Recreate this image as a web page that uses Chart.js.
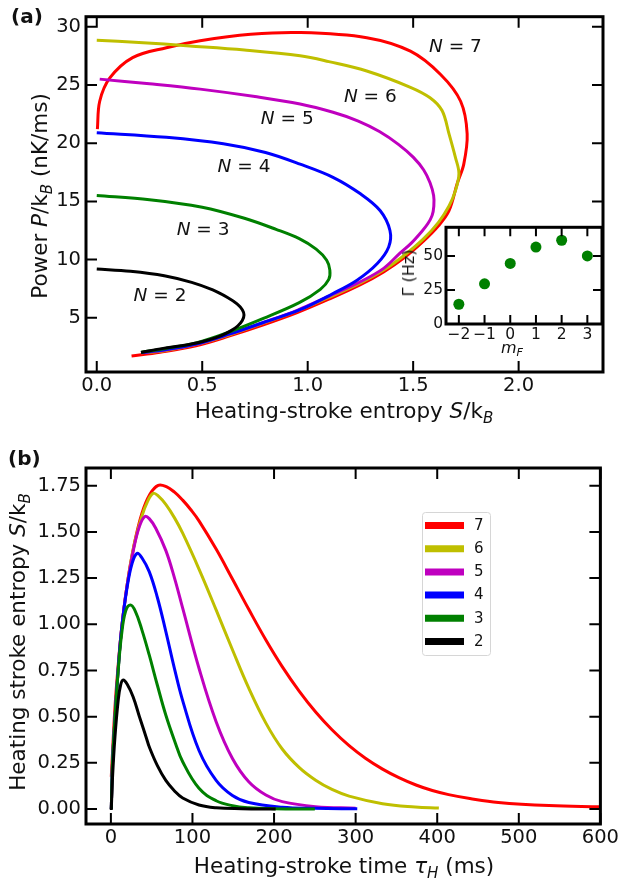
<!DOCTYPE html>
<html>
<head>
<meta charset="utf-8">
<script src="https://cdn.jsdelivr.net/npm/chart.js@4.4.1/dist/chart.umd.min.js"></script>
<style>
  html, body { margin: 0; padding: 0; background: #fff; }
  #wrap { position: relative; width: 621px; height: 882px; overflow: hidden;
          font-family: "DejaVu Sans", sans-serif; color: #111; }
  #wrap canvas { position: absolute; }
  .t { position: absolute; white-space: nowrap; line-height: 1; font-size: 21.5px;
       transform: translate(-50%, -50%); }
  .rot { transform: translate(-50%, -50%) rotate(-90deg); }
  .panel { position: absolute; font-weight: bold; font-size: 20px; line-height: 1; }
  .small { font-size: 16px; }
  sub { font-size: 0.7em; vertical-align: -0.3em; line-height: 0; }
</style>
</head>
<body>
<div id="wrap">
  <canvas id="chartA" width="621" height="430" style="left:0;top:0"></canvas>
  <canvas id="chartB" width="621" height="442" style="left:0;top:440px"></canvas>
  <canvas id="chartC" width="221" height="145" style="left:400px;top:215px"></canvas>

  <div class="panel" style="left:11px;top:6px">(a)</div>
  <div class="t rot" style="left:40px;top:196px">Power <i>P</i>/k<sub><i>B</i></sub> (nK/ms)</div>
  <div class="t" style="left:344px;top:411px">Heating-stroke entropy <i>S</i>/k<sub><i>B</i></sub></div>
  <div class="t rot small" style="left:409px;top:273px">Γ (Hz)</div>
  <div class="t small" style="left:512px;top:348px"><i>m</i><sub><i>F</i></sub></div>

  <div class="panel" style="left:8px;top:448px">(b)</div>
  <div class="t rot" style="left:18px;top:642px">Heating stroke entropy <i>S</i>/k<sub><i>B</i></sub></div>
  <div class="t" style="left:344px;top:866px">Heating-stroke time <i>τ</i><sub><i>H</i></sub> (ms)</div>
</div>

<script>
// ---- data -------------------------------------------------------------
const curveN = [2, 3, 4, 5, 6, 7]
const curveColors = ['#000000', '#008000', '#0000ff', '#bf00bf', '#bfbf00', '#ff0000']

// (a) power vs heating-stroke entropy, one loop per N
const entropyA2 = [0.00, 0.16, 0.32, 0.45, 0.55, 0.62, 0.665, 0.69, 0.698, 0.69, 0.668, 0.635, 0.59, 0.535, 0.474, 0.40, 0.315, 0.21]
const powerA2   = [9.20, 9.00, 8.62, 8.05, 7.40, 6.75, 6.20, 5.70, 5.25, 4.78, 4.30, 3.88, 3.48, 3.13, 2.84, 2.60, 2.38, 2.03]

const entropyA3 = [0.00, 0.25, 0.50, 0.70, 0.85, 0.96, 1.04, 1.09, 1.105, 1.10, 1.06, 0.96, 0.79, 0.63, 0.47, 0.32, 0.21]
const powerA3   = [15.50, 15.15, 14.50, 13.55, 12.60, 11.80, 10.90, 9.95, 9.10, 8.30, 7.45, 6.30, 4.95, 3.80, 2.85, 2.35, 2.05]

const entropyA4 = [0.00, 0.33, 0.60, 0.80, 0.964, 1.12, 1.25, 1.344, 1.39, 1.384, 1.33, 1.234, 1.12, 0.964, 0.79, 0.63, 0.47, 0.32, 0.21]
const powerA4   = [20.9, 20.5, 19.95, 19.2, 18.2, 17.07, 15.65, 14.2, 12.5, 11.08, 9.66, 8.23, 7.09, 5.70, 4.60, 3.62, 2.75, 2.25, 2.02]

const entropyA5 = [0.014, 0.25, 0.49, 0.75, 0.964, 1.12, 1.24, 1.34, 1.43, 1.50, 1.55, 1.58, 1.597, 1.598, 1.59, 1.57, 1.54, 1.49, 1.44, 1.36, 1.25, 1.10, 0.95, 0.79, 0.63, 0.47, 0.32, 0.21]
const powerA5   = [25.5, 25.1, 24.64, 24.0, 23.36, 22.65, 21.9, 21.0, 19.9, 18.8, 17.7, 16.6, 15.5, 14.6, 13.8, 13.1, 12.4, 11.4, 10.6, 9.25, 8.1, 6.85, 5.65, 4.6, 3.6, 2.72, 2.22, 2.0]

const entropyA6 = [0.00, 0.20, 0.44, 0.70, 0.964, 1.10, 1.28, 1.487, 1.58, 1.637, 1.67, 1.70, 1.717, 1.70, 1.67, 1.62, 1.55, 1.46, 1.36, 1.25, 1.10, 0.95, 0.79, 0.63, 0.47, 0.32, 0.21]
const powerA6   = [28.84, 28.65, 28.35, 28.0, 27.5, 27.0, 26.2, 24.8, 23.9, 22.8, 20.8, 18.8, 17.4, 15.9, 14.6, 13.2, 11.8, 10.4, 9.1, 8.0, 6.75, 5.6, 4.55, 3.55, 2.7, 2.18, 2.0]

const entropyA7 = [0.003, 0.014, 0.062, 0.17, 0.33, 0.49, 0.73, 0.965, 1.28, 1.487, 1.63, 1.725, 1.756, 1.74, 1.71, 1.67, 1.62, 1.55, 1.46, 1.36, 1.25, 1.10, 0.95, 0.79, 0.63, 0.47, 0.30, 0.165]
const powerA7   = [21.2, 23.6, 25.6, 27.35, 28.2, 28.8, 29.35, 29.5, 29.06, 27.9, 25.9, 23.6, 20.8, 18.2, 16.6, 14.2, 12.9, 11.6, 10.2, 8.95, 7.85, 6.6, 5.45, 4.4, 3.45, 2.6, 2.05, 1.72]

// "N = ..." annotation anchors (data coords of panel a)
const labelS = [0.30, 0.504, 0.698, 0.903, 1.297, 1.70]
const labelP = [6.86, 12.5, 17.9, 22.1, 23.98, 28.26]

// inset: decay rate vs m_F
const mF = [-2, -1, 0, 1, 2, 3]
const gammaHz = [14.5, 29.5, 44.5, 56.5, 61.5, 50]

// (b) heating-stroke entropy vs heating-stroke time
const tauB2 = [0.5, 2, 5, 9, 12, 15.1, 20, 27.2, 35, 43.5, 47, 57, 67.3, 78, 88, 108, 129, 160, 202]
const entB2 = [-0.005, 0.17, 0.39, 0.59, 0.672, 0.698, 0.675, 0.608, 0.50, 0.385, 0.337, 0.235, 0.155, 0.098, 0.060, 0.022, 0.007, 0.002, 0]

const tauB3 = [0.5, 2, 5, 9, 13, 18, 24, 30, 38, 47, 57, 67.3, 78, 88, 108, 129, 149, 169, 200, 250]
const entB3 = [0, 0.25, 0.49, 0.75, 0.94, 1.07, 1.104, 1.07, 0.97, 0.834, 0.67, 0.509, 0.37, 0.256, 0.112, 0.045, 0.018, 0.007, 0.002, 0]

const tauB4 = [0.5, 2, 5, 9, 13, 19.5, 26, 32.2, 38, 47, 57, 67.3, 78, 88, 108, 129, 149, 169, 210, 250, 302]
const entB4 = [0, 0.25, 0.49, 0.76, 0.97, 1.19, 1.33, 1.384, 1.36, 1.285, 1.145, 0.962, 0.759, 0.587, 0.317, 0.155, 0.073, 0.035, 0.010, 0.004, 0.001]

const tauB5 = [0.5, 2, 5, 9, 13, 19.5, 28, 35, 41.5, 47, 55, 67.3, 78, 88, 108, 129, 149, 169, 190, 210, 251, 300]
const entB5 = [0, 0.25, 0.49, 0.76, 0.97, 1.20, 1.41, 1.53, 1.583, 1.572, 1.52, 1.40, 1.25, 1.087, 0.762, 0.473, 0.274, 0.148, 0.076, 0.040, 0.013, 0.004]

const tauB6 = [0.5, 2, 5, 9, 13, 19.5, 28, 38, 45, 51.7, 58, 67.3, 78, 88, 108, 129, 149, 169, 190, 210, 231, 251, 271, 292, 333, 373, 402]
const entB6 = [0, 0.25, 0.49, 0.76, 0.97, 1.20, 1.42, 1.585, 1.665, 1.709, 1.695, 1.649, 1.576, 1.493, 1.299, 1.078, 0.862, 0.654, 0.465, 0.325, 0.224, 0.156, 0.106, 0.070, 0.029, 0.011, 0.005]

const tauB7 = [0.5, 5, 9, 13, 19.5, 28, 38, 48, 58, 68, 78, 88, 98, 108, 129, 149, 169, 190, 210, 231, 251, 271, 292, 312, 333, 353, 374, 394, 414, 440, 475, 537, 600]
const entB7 = [0.175, 0.55, 0.78, 0.97, 1.20, 1.42, 1.60, 1.705, 1.752, 1.745, 1.715, 1.672, 1.62, 1.56, 1.407, 1.245, 1.081, 0.915, 0.771, 0.637, 0.525, 0.429, 0.343, 0.275, 0.216, 0.170, 0.130, 0.100, 0.078, 0.057, 0.036, 0.019, 0.012]

// tick labels
const xTicksA = [0, 0.5, 1.0, 1.5, 2.0]
const yTicksA = [5, 10, 15, 20, 25, 30]
const xTicksB = [0, 100, 200, 300, 400, 500, 600]
const yTicksB = [0, 0.25, 0.5, 0.75, 1.0, 1.25, 1.5, 1.75]
const xTicksC = [-2, -1, 0, 1, 2, 3]
const yTicksC = [0, 25, 50]

const entropyA = [entropyA2, entropyA3, entropyA4, entropyA5, entropyA6, entropyA7]
const powerA = [powerA2, powerA3, powerA4, powerA5, powerA6, powerA7]
const tauB = [tauB2, tauB3, tauB4, tauB5, tauB6, tauB7]
const entB = [entB2, entB3, entB4, entB5, entB6, entB7]

// ---- helpers / plugins ------------------------------------------------
const FONT = '"DejaVu Sans"'
const INK = '#111'
Chart.defaults.font.family = FONT
Chart.defaults.color = INK

const zip = (xs, ys) => xs.map((x, i) => ({ x: x, y: ys[i] }))
const fixedTicks = list => scale => { scale.ticks = list.map(v => ({ value: v })) }
const minus = v => (v < 0 ? '\u2212' + Math.abs(v) : String(v))

// matplotlib-ish box: inward ticks on all four sides + thick frame
const frameTicks = {
  id: 'frameTicks',
  afterDraw(chart, args, opts) {
    const { ctx, chartArea: a } = chart
    const xs = chart.scales.x, ys = chart.scales.y
    const len = opts.len || 11
    ctx.save()
    ctx.strokeStyle = '#000'
    ctx.lineWidth = opts.tickWidth || 2
    ctx.beginPath()
    xs.ticks.forEach(t => {
      const px = xs.getPixelForValue(t.value)
      ctx.moveTo(px, a.bottom); ctx.lineTo(px, a.bottom - len)
      ctx.moveTo(px, a.top); ctx.lineTo(px, a.top + len)
    })
    ys.ticks.forEach(t => {
      const py = ys.getPixelForValue(t.value)
      ctx.moveTo(a.left, py); ctx.lineTo(a.left + len, py)
      ctx.moveTo(a.right, py); ctx.lineTo(a.right - len, py)
    })
    ctx.stroke()
    ctx.lineWidth = opts.frameWidth || 3
    ctx.strokeRect(a.left, a.top, a.right - a.left, a.bottom - a.top)
    ctx.restore()
  }
}

// white background for the inset plot area
const whiteArea = {
  id: 'whiteArea',
  beforeDraw(chart) {
    const { ctx, chartArea: a } = chart
    ctx.save()
    ctx.fillStyle = '#fff'
    ctx.fillRect(a.left, a.top, a.right - a.left, a.bottom - a.top)
    ctx.restore()
  }
}

// "N = 2" ... labels next to each loop
const curveLabels = {
  id: 'curveLabels',
  afterDatasetsDraw(chart) {
    const { ctx } = chart
    const xs = chart.scales.x, ys = chart.scales.y
    ctx.save()
    ctx.fillStyle = INK
    ctx.textBaseline = 'middle'
    curveN.forEach((n, i) => {
      const cx = xs.getPixelForValue(labelS[i])
      const cy = ys.getPixelForValue(labelP[i])
      const rest = ' = ' + n
      ctx.font = 'italic 18.5px ' + FONT
      const w1 = ctx.measureText('N').width
      ctx.font = '18.5px ' + FONT
      const w2 = ctx.measureText(rest).width
      const x0 = cx - (w1 + w2) / 2
      ctx.font = 'italic 18.5px ' + FONT
      ctx.fillText('N', x0, cy)
      ctx.font = '18.5px ' + FONT
      ctx.fillText(rest, x0 + w1, cy)
    })
    ctx.restore()
  }
}

// framed legend inside panel (b)
const boxLegend = {
  id: 'boxLegend',
  afterDraw(chart, args, opts) {
    const { ctx } = chart
    const { x, y, w, h, step } = opts
    ctx.save()
    ctx.fillStyle = 'rgba(255,255,255,0.85)'
    ctx.strokeStyle = '#d6d6d6'
    ctx.lineWidth = 1
    ctx.beginPath()
    ctx.roundRect(x + 0.5, y + 0.5, w, h, 3)
    ctx.fill()
    ctx.stroke()
    ctx.font = '15px ' + FONT
    ctx.textBaseline = 'middle'
    chart.data.datasets.slice().reverse().forEach((ds, i) => {
      const cy = y + 13.5 + i * step
      ctx.strokeStyle = ds.borderColor
      ctx.lineWidth = 7
      ctx.beginPath()
      ctx.moveTo(x + 3, cy); ctx.lineTo(x + 42, cy)
      ctx.stroke()
      ctx.fillStyle = INK
      ctx.fillText(ds.label, x + 52, cy + 0.5)
    })
    ctx.restore()
  }
}

const tickFont = { size: 19.5 }
const plainAxis = {
  type: 'linear',
  grid: { display: false, drawTicks: false },
  border: { display: false }
}

// ---- panel (a) --------------------------------------------------------
new Chart(document.getElementById('chartA'), {
  type: 'scatter',
  data: {
    datasets: curveN.map((n, i) => ({
      label: String(n),
      data: zip(entropyA[i], powerA[i]),
      borderColor: curveColors[i],
      borderWidth: 3,
      showLine: true,
      pointRadius: 0,
      tension: 0.35
    }))
  },
  options: {
    responsive: false,
    animation: false,
    events: [],
    layout: { padding: { left: 0, top: 16, right: 18, bottom: 0 }, autoPadding: false },
    plugins: { legend: { display: false }, tooltip: { enabled: false }, frameTicks: { len: 11 } },
    scales: {
      x: {
        ...plainAxis, min: -0.051, max: 2.40,
        afterBuildTicks: fixedTicks(xTicksA),
        afterFit: s => { s.height = 58 },
        ticks: { font: tickFont, padding: 2, callback: v => v.toFixed(1) }
      },
      y: {
        ...plainAxis, min: 0.35, max: 30.86,
        afterBuildTicks: fixedTicks(yTicksA),
        afterFit: s => { s.width = 86 },
        ticks: { font: tickFont, padding: 5, callback: v => String(v) }
      }
    }
  },
  plugins: [frameTicks, curveLabels]
})

// ---- inset ------------------------------------------------------------
new Chart(document.getElementById('chartC'), {
  type: 'scatter',
  data: {
    datasets: [{
      label: 'Gamma',
      data: zip(mF, gammaHz),
      backgroundColor: '#008000',
      borderColor: '#008000',
      borderWidth: 0,
      pointRadius: 5.5
    }]
  },
  options: {
    responsive: false,
    animation: false,
    events: [],
    layout: { padding: { left: 0, top: 8, right: 19, bottom: 0 }, autoPadding: false },
    plugins: { legend: { display: false }, tooltip: { enabled: false }, frameTicks: { len: 9 } },
    scales: {
      x: {
        ...plainAxis, min: -2.5, max: 3.57,
        afterBuildTicks: fixedTicks(xTicksC),
        afterFit: s => { s.height = 36 },
        ticks: { font: { size: 15.5 }, padding: 2, callback: minus }
      },
      y: {
        ...plainAxis, min: 0, max: 71,
        afterBuildTicks: fixedTicks(yTicksC),
        afterFit: s => { s.width = 46 },
        ticks: { font: { size: 15.5 }, padding: 3, callback: v => String(v) }
      }
    }
  },
  plugins: [whiteArea, frameTicks]
})

// ---- panel (b) --------------------------------------------------------
new Chart(document.getElementById('chartB'), {
  type: 'scatter',
  data: {
    datasets: curveN.map((n, i) => ({
      label: String(n),
      data: zip(tauB[i], entB[i]),
      borderColor: curveColors[i],
      borderWidth: 3,
      showLine: true,
      pointRadius: 0,
      tension: 0.4
    }))
  },
  options: {
    responsive: false,
    animation: false,
    events: [],
    layout: { padding: { left: 0, top: 28, right: 19, bottom: 0 }, autoPadding: false },
    plugins: {
      legend: { display: false },
      tooltip: { enabled: false },
      frameTicks: { len: 11 },
      boxLegend: { x: 422, y: 72, w: 68, h: 143, step: 23.2 }
    },
    scales: {
      x: {
        ...plainAxis, min: -30.5, max: 600,
        afterBuildTicks: fixedTicks(xTicksB),
        afterFit: s => { s.height = 58 },
        ticks: { font: tickFont, padding: 2, callback: v => String(v) }
      },
      y: {
        ...plainAxis, min: -0.081, max: 1.846,
        afterBuildTicks: fixedTicks(yTicksB),
        afterFit: s => { s.width = 86 },
        ticks: { font: tickFont, padding: 5, callback: v => v.toFixed(2) }
      }
    }
  },
  plugins: [frameTicks, boxLegend]
})
</script>
</body>
</html>
